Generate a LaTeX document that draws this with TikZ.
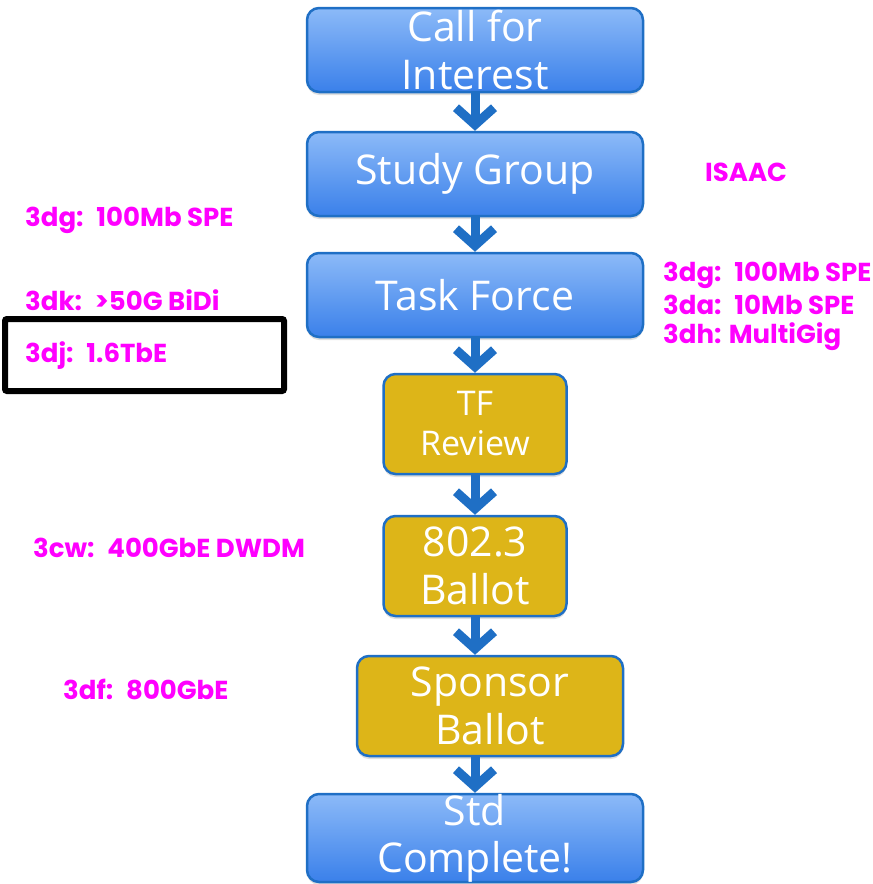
\documentclass[tikz,border=0pt]{standalone}
\usepackage{fontspec}
\setsansfont{Open Sans}
\newfontfamily\tagfont{Poppins}
\usetikzlibrary{arrows.meta,shadows}

\definecolor{stepblue}{HTML}{1F6FC5}
\definecolor{boxtop}{HTML}{8CBAF8}
\definecolor{boxbot}{HTML}{3A80EA}
\definecolor{ballotgold}{HTML}{DDB518}
\definecolor{tagpink}{HTML}{FF00FF}

\begin{document}
\begin{tikzpicture}[x=1pt, y=-1pt,
	stepbox/.style={draw=stepblue, line width=2.5pt, rounded corners=12pt, text=white, align=center, inner sep=0pt,
		drop shadow={opacity=0.25, shadow xshift=0pt, shadow yshift=-3pt}},
	bluebox/.style={stepbox, top color=boxtop, bottom color=boxbot, minimum width=336pt, minimum height=84pt,
		font=\sffamily\fontsize{41}{48}\selectfont},
	goldbox/.style={stepbox, fill=ballotgold, minimum width=183pt, minimum height=100pt,
		font=\sffamily\fontsize{41}{48}\selectfont},
	flow/.style={draw=stepblue, line width=9pt, -{Straight Barb[length=17pt, width=38pt]}},
	tag/.style={anchor=west, text=tagpink, inner sep=0pt, font=\tagfont\bfseries\fontsize{26}{30}\selectfont}]
	\useasboundingbox (0,0) rectangle (873,884);
	\coordinate (axis) at (475,0);
	% process steps
	\node[bluebox] (cfi) at (475,50) {Call for\\Interest};
	\node[bluebox] (sg) at (475,174) {Study Group};
	\node[bluebox] (tf) at (475,295) {Task Force};
	\node[goldbox, font=\sffamily\fontsize{34}{40}\selectfont] (tfr) at (475,424) {TF\\Review};
	\node[goldbox] (wgb) at (475,566) {802.3\\Ballot};
	\node[goldbox, minimum width=266pt] (sb) at (490,706) {Sponsor\\Ballot};
	\node[bluebox, font=\sffamily\fontsize{41}{47}\selectfont] (sc) at (475,838) {Std\\Complete!};
	\foreach \a/\b in {cfi/sg, sg/tf, tf/tfr, tfr/wgb, wgb/sb, sb/sc}
		\path[flow] (\a.south -| axis) -- (\b.north -| axis);
	% projects
	\node[tag] (isaac) at (705,172) {ISAAC};
	\node[tag] (lg) at (25,220) {3dg:~ 100Mb SPE};
	\node[tag] (lk) at (25,300) {3dk:~ >50G BiDi};
	\node[tag] (lj) at (25,356) {3dj:~ 1.6TbE};
	\draw[line width=6pt, rounded corners=2pt] (5,319) rectangle (284,391);
	\node[tag] (rg) at (663,275) {3dg:~ 100Mb SPE};
	\node[tag] (ra) at (663,305) {3da:~ 10Mb SPE};
	\node[tag] (rh) at (663,337) {3dh: MultiGig};
	\node[tag] (lcw) at (33,548) {3cw:~ 400GbE DWDM};
	\node[tag] (ldf) at (63,689) {3df:~ 800GbE};
\end{tikzpicture}
\end{document}
